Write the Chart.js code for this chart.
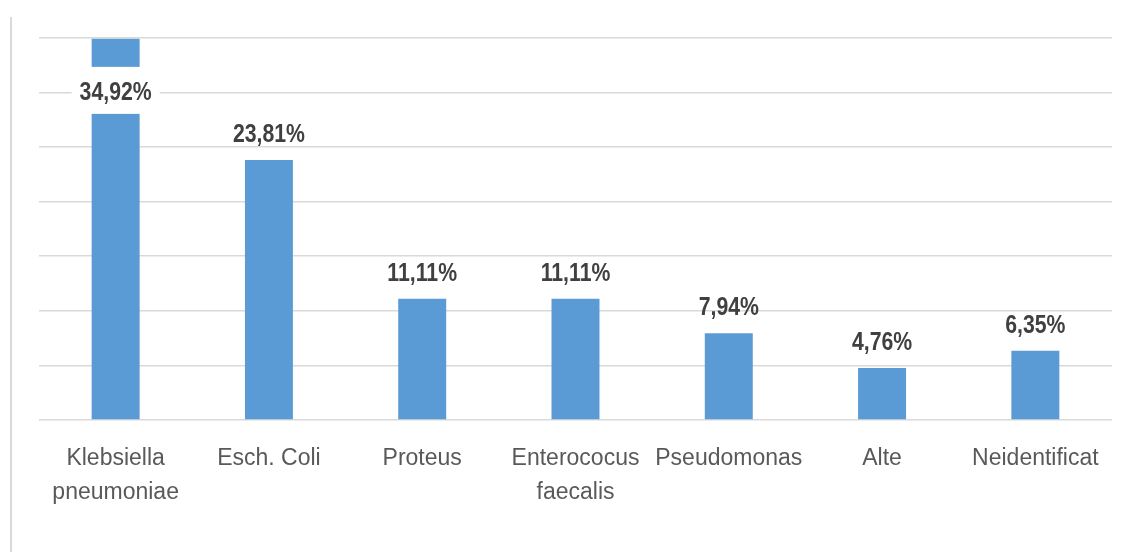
<!DOCTYPE html>
<html>
<head>
<meta charset="utf-8">
<script src="https://cdn.jsdelivr.net/npm/chart.js@4.4.0/dist/chart.umd.min.js"></script>
<style>
  html, body { margin: 0; padding: 0; background: #fff; }
  #frame { position: absolute; left: 10px; top: 17px; width: 1116px; height: 535px; border-left: 2px solid #d9d9d9; }
  #wrap { position: absolute; left: 0; top: 0; width: 1126px; height: 552px; }
</style>
</head>
<body>
<div id="frame"></div>
<div id="wrap"><canvas id="barChart"></canvas></div>
<script>
// ----------------- Data -----------------
const categories = [
    ['Klebsiella', 'pneumoniae'],
    'Esch. Coli',
    'Proteus',
    ['Enterococus', 'faecalis'],
    'Pseudomonas',
    'Alte',
    'Neidentificat'
];
const percentages = [34.92, 23.81, 11.11, 11.11, 7.94, 4.76, 6.35];
const yTicks = [0, 5, 10, 15, 20, 25, 30, 35];

const FONT = '"Liberation Sans", Arial, sans-serif';

// ----------------- Value labels -----------------
const valueLabels = {
    id: 'valueLabels',
    afterDatasetsDraw(chart) {
        const ctx = chart.ctx;
        const area = chart.chartArea;
        const meta = chart.getDatasetMeta(0);
        const squeeze = 0.85; // narrower glyphs, like the original
        ctx.save();
        ctx.font = 'bold 25px ' + FONT;
        ctx.textAlign = 'center';
        ctx.textBaseline = 'middle';
        meta.data.forEach((bar, i) => {
            const text = percentages[i].toFixed(2).replace('.', ',') + '%';
            let y = bar.y - 25;
            if (y - 14 < area.top) {
                // no room above the bar: put it inside on a white box
                y = bar.y + 54;
                const w = ctx.measureText(text).width * squeeze + 16;
                ctx.fillStyle = '#ffffff';
                ctx.fillRect(bar.x - w / 2, y - 26, w, 47);
            }
            ctx.save();
            ctx.translate(bar.x, y);
            ctx.scale(squeeze, 1);
            ctx.fillStyle = '#404040';
            ctx.fillText(text, 0, 0);
            ctx.restore();
        });
        ctx.restore();
    }
};

// ----------------- Bar Chart -----------------
const ctx = document.getElementById('barChart').getContext('2d');
new Chart(ctx, {
    type: 'bar',
    data: {
        labels: categories,
        datasets: [{
            data: percentages,
            backgroundColor: '#5b9bd5',
            borderWidth: 0,
            barPercentage: 0.313,
            categoryPercentage: 1
        }]
    },
    options: {
        responsive: true,
        maintainAspectRatio: false,
        animation: false,
        layout: { padding: { left: 39, right: 14, top: 38, bottom: 20 } },
        plugins: {
            legend: { display: false },
            tooltip: { enabled: false }
        },
        scales: {
            x: {
                grid: { display: false, drawTicks: false },
                border: { display: false },
                ticks: {
                    color: '#595959',
                    font: { family: FONT, size: 23, lineHeight: 1.48 },
                    padding: 22,
                    maxRotation: 0,
                    autoSkip: false
                }
            },
            y: {
                min: yTicks[0],
                max: yTicks[yTicks.length - 1],
                afterBuildTicks: axis => { axis.ticks = yTicks.map(v => ({ value: v })); },
                grid: { color: '#d9d9d9', lineWidth: 1.5, drawTicks: false },
                border: { display: false },
                ticks: { display: false }
            }
        }
    },
    plugins: [valueLabels]
});
</script>
</body>
</html>
